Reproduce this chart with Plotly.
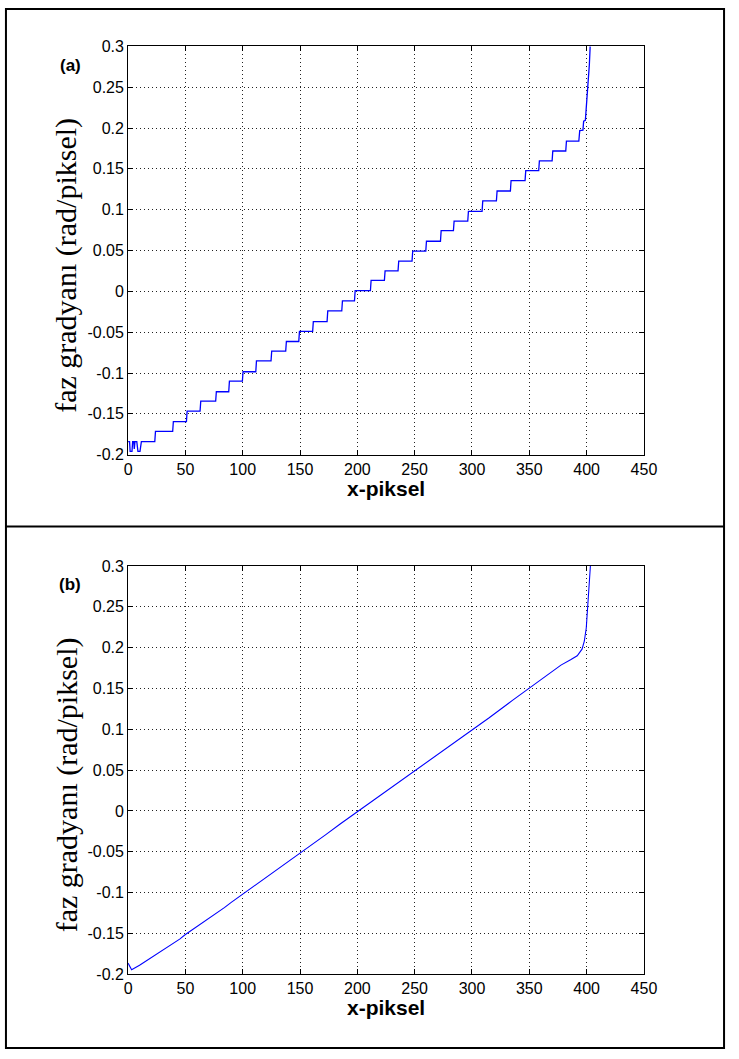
import plotly.graph_objects as go

# ---- data -------------------------------------------------------------
# (a) staircase phase gradient: noisy start, step edges and plateau levels, final rise
start_x = [0.0, 1.3, 1.8, 3.4, 4.0, 5.0, 5.4, 6.0, 7.6, 8.6, 10.4, 11.6]
start_y = [-0.184, -0.184, -0.196, -0.196, -0.184, -0.184, -0.193, -0.184, -0.184, -0.196, -0.196, -0.184]

step_edges = [23.3, 38.9, 50.9, 62.8, 76.4, 87.8, 99.7, 111.4, 124.7, 137.5,
              148.9, 161.0, 173.6, 186.4, 197.5, 211.4, 223.6, 235.5, 247.7, 259.7,
              272.5, 283.8, 296.3, 308.8, 321.3, 333.5, 346.3, 358.2, 369.9, 381.8]
step_levels = [-0.1715, -0.1594, -0.1466, -0.1345, -0.1229, -0.110, -0.0984, -0.0851, -0.0731, -0.0614,
               -0.049, -0.037, -0.024, -0.0116, 0.001, 0.0135, 0.0251, 0.0371, 0.0494, 0.0614,
               0.0743, 0.0859, 0.098, 0.1108, 0.1229, 0.1357, 0.1478, 0.1598, 0.1719, 0.1839]

rise_x = [393.2, 394.0, 396.8, 397.4, 398.9, 399.6, 400.3, 401.1, 401.9, 402.4, 403.1]
rise_y = [0.1839, 0.1970, 0.1975, 0.2085, 0.2095, 0.222, 0.233, 0.245, 0.262, 0.278, 0.300]

# (b) smoothed phase gradient
smooth_x = [0.0, 3.1, 10, 20, 27, 35, 45, 50, 60, 70, 80, 84, 90, 100, 110, 115, 125, 135,
            150, 165, 172.5, 185, 200, 215, 230, 250, 265, 280, 300, 315, 335, 350,
            363.4, 377.6, 386.0, 391.8, 396.0, 398.0, 399.7, 400.9, 402.0, 403.3]
smooth_y = [-0.1864, -0.1944, -0.189, -0.180, -0.174, -0.166, -0.157, -0.1514, -0.1420, -0.1325,
            -0.1230, -0.1185, -0.1120, -0.1020, -0.0920, -0.0865, -0.0765, -0.0670, -0.0522, -0.0365,
            -0.0290, -0.0160, -0.0010, 0.0140, 0.0290, 0.0490, 0.0635, 0.0790, 0.0996, 0.1140, 0.1350,
            0.1505, 0.1645, 0.1785, 0.1850, 0.1900, 0.1980, 0.2080, 0.2240, 0.2480, 0.2760, 0.3000]

x_ticks = [0, 50, 100, 150, 200, 250, 300, 350, 400, 450]
x_ticktext = ["0", "50", "100", "150", "200", "250", "300", "350", "400", "450"]
y_ticks = [-0.2, -0.15, -0.1, -0.05, 0, 0.05, 0.1, 0.15, 0.2, 0.25, 0.3]
y_ticktext = ["-0.2", "-0.15", "-0.1", "-0.05", "0", "0.05", "0.1", "0.15", "0.2", "0.25", "0.3"]

panel_labels = ["(a)", "(b)"]
y_title = "faz gradyanı (rad/piksel)"
x_title = "x-piksel"

# ---- build staircase path (slightly slanted risers) --------------------
stair_x = list(start_x)
stair_y = list(start_y)
prev = start_y[-1]
for edge, level in zip(step_edges, step_levels):
    stair_x += [edge, edge + 0.6]
    stair_y += [prev, level]
    prev = level
stair_x += rise_x
stair_y += rise_y

# ---- figure -----------------------------------------------------------
W, H = 739, 1059
PLOT_L, PLOT_R = 127, 655
PANELS = [(39, 454), (567, 982)]  # top, bottom pixel rows of each plot area

def px_x(p):
    return p / W

def px_y(p):
    return 1 - p / H

tick_font = dict(family="Liberation Sans Narrow, Liberation Sans, Arial, sans-serif", size=16, color="black")
line_col = "#0000ff"

fig = go.Figure()
fig.add_trace(go.Scatter(x=stair_x, y=stair_y, mode="lines",
                         line=dict(color=line_col, width=1.3), xaxis="x", yaxis="y",
                         showlegend=False, hoverinfo="skip"))
fig.add_trace(go.Scatter(x=smooth_x, y=smooth_y, mode="lines",
                         line=dict(color=line_col, width=1.1), xaxis="x2", yaxis="y2",
                         showlegend=False, hoverinfo="skip"))

axis_common = dict(
    showline=True, linecolor="black", linewidth=1, mirror="ticks",
    ticks="inside", ticklen=5, tickwidth=1, tickcolor="black",
    showgrid=True, gridcolor="#222222", gridwidth=1, griddash="1px,3px",
    zeroline=False, tickfont=tick_font, fixedrange=True,
)

dom_x = [px_x(PLOT_L), px_x(PLOT_R)]
layout_axes = {}
for i, (top, bot) in enumerate(PANELS):
    sfx = "" if i == 0 else str(i + 1)
    layout_axes["xaxis" + sfx] = dict(axis_common, domain=dom_x, range=[0, 450],
                                      tickvals=x_ticks, ticktext=x_ticktext,
                                      anchor="y" + sfx)
    layout_axes["yaxis" + sfx] = dict(axis_common, domain=[px_y(bot), px_y(top)],
                                      range=[-0.2, 0.3], tickvals=y_ticks,
                                      ticktext=y_ticktext, anchor="x" + sfx)

annotations = []
for i, (top, bot) in enumerate(PANELS):
    annotations.append(dict(text="<b>%s</b>" % panel_labels[i], xref="paper", yref="paper",
                            x=px_x(68), y=px_y(top + 19), xanchor="center", yanchor="middle",
                            showarrow=False,
                            font=dict(family="Liberation Sans, Arial, sans-serif", size=17, color="black")))
    annotations.append(dict(text=y_title, xref="paper", yref="paper", textangle=-90,
                            x=px_x(64), y=px_y((top + bot) / 2 + 15), xanchor="center",
                            yanchor="middle", showarrow=False,
                            font=dict(family="Liberation Serif, Times New Roman, serif", size=30, color="black")))
    annotations.append(dict(text="<b>%s</b>" % x_title, xref="paper", yref="paper",
                            x=px_x((PLOT_L + PLOT_R) / 2), y=px_y(bot + 34), xanchor="center",
                            yanchor="middle", showarrow=False,
                            font=dict(family="Liberation Sans Narrow, Liberation Sans, Arial, sans-serif", size=21, color="black")))

shapes = [
    dict(type="rect", xref="paper", yref="paper", x0=px_x(2), x1=px_x(737), y0=px_y(1057), y1=px_y(1),
         line=dict(color="black", width=2), fillcolor="rgba(0,0,0,0)"),
    dict(type="line", xref="paper", yref="paper", x0=px_x(2), x1=px_x(737), y0=px_y(527), y1=px_y(527),
         line=dict(color="black", width=2)),
]

fig.update_layout(
    width=W, height=H,
    margin=dict(l=0, r=0, t=0, b=0),
    paper_bgcolor="white", plot_bgcolor="white",
    annotations=annotations, shapes=shapes,
    **layout_axes,
)

fig.write_html("out.html")
